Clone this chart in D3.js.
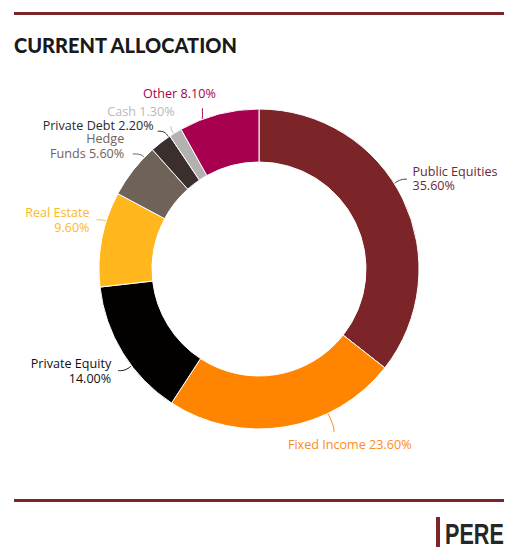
<!DOCTYPE html>
<html>
<head>
<meta charset="utf-8">
<script src="https://cdn.jsdelivr.net/npm/d3@7"></script>
<style>
  html, body { margin: 0; padding: 0; background: #fff; }
  #chart { width: 520px; height: 556px; }
  .lbl { font-family: "Open Sans", "Noto Sans", sans-serif; font-size: 12.6px; }
</style>
</head>
<body>
<div id="chart"></div>
<script>
// Current allocation (%), clockwise from 12 o'clock
const categories = ['Public Equities', 'Fixed Income', 'Private Equity', 'Real Estate',
                    'Hedge Funds', 'Private Debt', 'Cash', 'Other'];
const values = [35.6, 23.6, 14.0, 9.6, 5.6, 2.2, 1.3, 8.1];
const sliceColors = ['#7b2528', '#ff8400', '#030000', '#ffb71d',
                     '#6e6259', '#3a2f2d', '#b4b2b1', '#a6004f'];
const labelColors = ['#6d2836', '#ff8a1c', '#111111', '#fdb81f',
                     '#6e6259', '#2b2b2b', '#b9b9b9', '#a6004f'];
// how each label text wraps
const labelLines = [
  ['Public Equities', '35.60%'],
  ['Fixed Income 23.60%'],
  ['Private Equity', '14.00%'],
  ['Real Estate', '9.60%'],
  ['Hedge', 'Funds 5.60%'],
  ['Private Debt 2.20%'],
  ['Cash 1.30%'],
  ['Other 8.10%']
];

(function(){
  const width = 520, height = 556;
  const cx = 259, cy = 269;
  const R = 160, r0 = 107;

  const svg = d3.select('#chart').append('svg')
    .attr('width', width).attr('height', height)
    .style('display', 'block');

  const RULE = '#7b2528';
  svg.append('rect').attr('x', 14).attr('y', 12).attr('width', 490).attr('height', 3).attr('fill', RULE);
  svg.append('rect').attr('x', 14).attr('y', 499).attr('width', 490).attr('height', 3).attr('fill', RULE);

  svg.append('text')
    .attr('x', 14).attr('y', 53)
    .attr('fill', '#1a1a1a')
    .style('font-family', 'Lato, sans-serif')
    .style('font-weight', '900')
    .style('font-size', '20px')
    .text('CURRENT ALLOCATION');

  // PERE mark (condensed by a horizontal squeeze)
  svg.append('rect').attr('x', 436).attr('y', 517).attr('width', 4).attr('height', 30).attr('fill', RULE);
  svg.append('text')
    .attr('transform', 'translate(445,543.5) scale(0.72,1)')
    .attr('fill', '#262626')
    .style('font-family', '"Liberation Sans", Arial, sans-serif')
    .style('font-weight', '700')
    .style('font-size', '30px')
    .text('PERE');

  const data = categories.map((c, i) => ({name: c, value: values[i], i}));
  const pie = d3.pie().value(d => d.value).sort(null);
  const arcs = pie(data);
  const arc = d3.arc().innerRadius(r0).outerRadius(R);

  const g = svg.append('g').attr('transform', `translate(${cx},${cy})`);
  g.selectAll('path.slice')
    .data(arcs)
    .join('path')
    .attr('class', 'slice')
    .attr('d', arc)
    .attr('fill', d => sliceColors[d.data.i])
    .attr('stroke', '#fff')
    .attr('stroke-width', 1);

  // label placement: where the leader leaves the ring (fraction across slice),
  // its radial length, then a short straight run and the text offset
  const layout = [
    {f: 0.45, ext: 8,  run: [6, 0],   anchor: 'start',  tx: 5.5,  ty: -3.5},
    {f: 0.31, ext: 14, run: [0, 6],   anchor: 'start',  tx: -46,  ty: 16.5},
    {f: 0.39, ext: 8,  run: [-7, 0],  anchor: 'end',    tx: -7,   ty: -2.5},
    {f: 0.69, ext: 5,  run: [-5, 0],  anchor: 'end',    tx: -7,   ty: -2.5},
    {f: 0.80, ext: 5,  run: [-8, 0],  anchor: 'end',    tx: -8.5, ty: -10.5},
    {f: 0.93, ext: 7,  run: [-7, 0],  anchor: 'end',    tx: -4,   ty: -1.2},
    {f: 0.35, ext: 5,  run: [0, -3],  anchor: 'end',    tx: 3.5,  ty: -10.3},
    {f: 0.29, ext: 0,  run: [0, -11], anchor: 'middle', tx: -23,  ty: -10.5}
  ];

  const polar = (a, rad) => [rad * Math.sin(a), -rad * Math.cos(a)];

  const lab = g.append('g').attr('class', 'labels');
  arcs.forEach((d, k) => {
    const L = layout[k];
    const a = d.startAngle + (d.endAngle - d.startAngle) * L.f;
    const p0 = polar(a, R + 0.5);
    const p1 = polar(a, R + L.ext);
    const p2 = [p1[0] + L.run[0], p1[1] + L.run[1]];
    lab.append('path')
      .attr('d', d3.line().curve(d3.curveBasis)([p0, p1, p2]))
      .attr('fill', 'none')
      .attr('stroke', labelColors[k])
      .attr('stroke-width', 1);
    const t = lab.append('text')
      .attr('class', 'lbl')
      .attr('fill', labelColors[k])
      .attr('text-anchor', L.anchor)
      .attr('x', p2[0] + L.tx)
      .attr('y', p2[1] + L.ty);
    labelLines[k].forEach((line, j) => {
      t.append('tspan')
        .attr('x', p2[0] + L.tx)
        .attr('dy', j === 0 ? 0 : 14.5)
        .text(line);
    });
  });
})();
</script>
</body>
</html>
